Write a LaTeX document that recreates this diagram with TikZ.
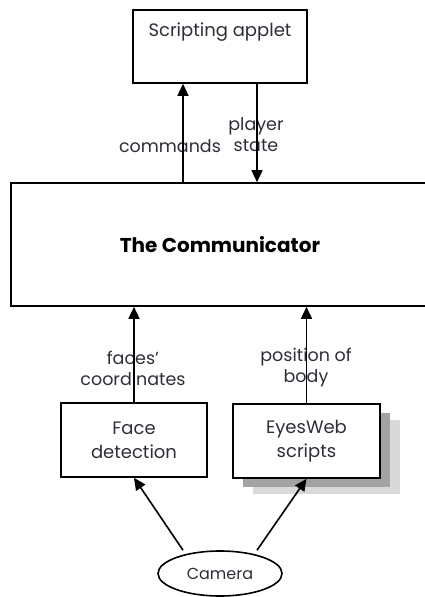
\documentclass[tikz,border=0pt]{standalone}
\usepackage{fontspec}
\setmainfont{Poppins}
\usetikzlibrary{arrows.meta,shapes.geometric,shadows}
\definecolor{txt}{HTML}{2E2E38}

\begin{document}
\begin{tikzpicture}[x=1pt,y=-1pt,
  box/.style={rectangle, draw, line width=1.6pt, fill=white, text=txt, align=center,
    font=\fontsize{18}{24}\selectfont},
  lbl/.style={text=txt, align=center, inner sep=0pt, font=\fontsize{17.5}{21}\selectfont},
  arr/.style={-{Triangle[length=12pt,width=11pt]}, line width=1.6pt}]
\useasboundingbox (0,0) rectangle (425,597);

\node (applet) [box, minimum width=174pt, minimum height=73pt,
  label={[text=txt, inner sep=0pt, anchor=north, yshift=-13pt, font=\fontsize{18}{24}\selectfont]north:Scripting applet}] at (220,46.5) {};
\node (comm) [box, minimum width=418pt, minimum height=123pt, text=black,
  font=\fontsize{20}{24}\selectfont\bfseries] at (220,244.5) {The Communicator};
\node (face) [box, minimum width=146pt, minimum height=74pt] at (134,440) {Face\\detection};
\node (eyes) [box, minimum width=147pt, minimum height=74pt,
  drop shadow={shadow xshift=20pt, shadow yshift=-16pt, fill=black!15, draw=none, opacity=1},
  drop shadow={shadow xshift=10pt, shadow yshift=-9pt, fill=black!36, draw=none, opacity=1}] at (306.5,441) {EyesWeb\\scripts};
\node (camera) [ellipse, draw, line width=1.6pt, text=txt, inner sep=0pt,
  minimum width=124pt, minimum height=45pt, font=\fontsize{16}{20}\selectfont] at (220,573.5) {Camera};

% labels on the connectors
\node (cmdlbl) [lbl] at (170,146) {commands};
\node (stlbl) [lbl] at (256,135) {player\\state};
\node (faclbl) [lbl] at (133,368) {faces'\\coordinates};
\node (poslbl) [lbl] at (306,368) {position of\\body};

\coordinate (cmdtop) at ([xshift=-37pt]applet.south);
\coordinate (sttop) at ([xshift=37pt]applet.south);
\coordinate (camleft) at ([xshift=-37pt]camera.north);
\coordinate (camright) at ([xshift=37pt]camera.north);

\draw [arr] (cmdtop |- comm.north) -- (cmdtop);
\draw [arr] (sttop) -- (sttop |- comm.north);
\draw [arr] (face.north) -- (face.north |- comm.south);
\draw [arr] (eyes.north) -- (eyes.north |- comm.south);
\draw [arr] (camleft) -- (face.south);
\draw [arr] (camright) -- (eyes.south);
\end{tikzpicture}
\end{document}
